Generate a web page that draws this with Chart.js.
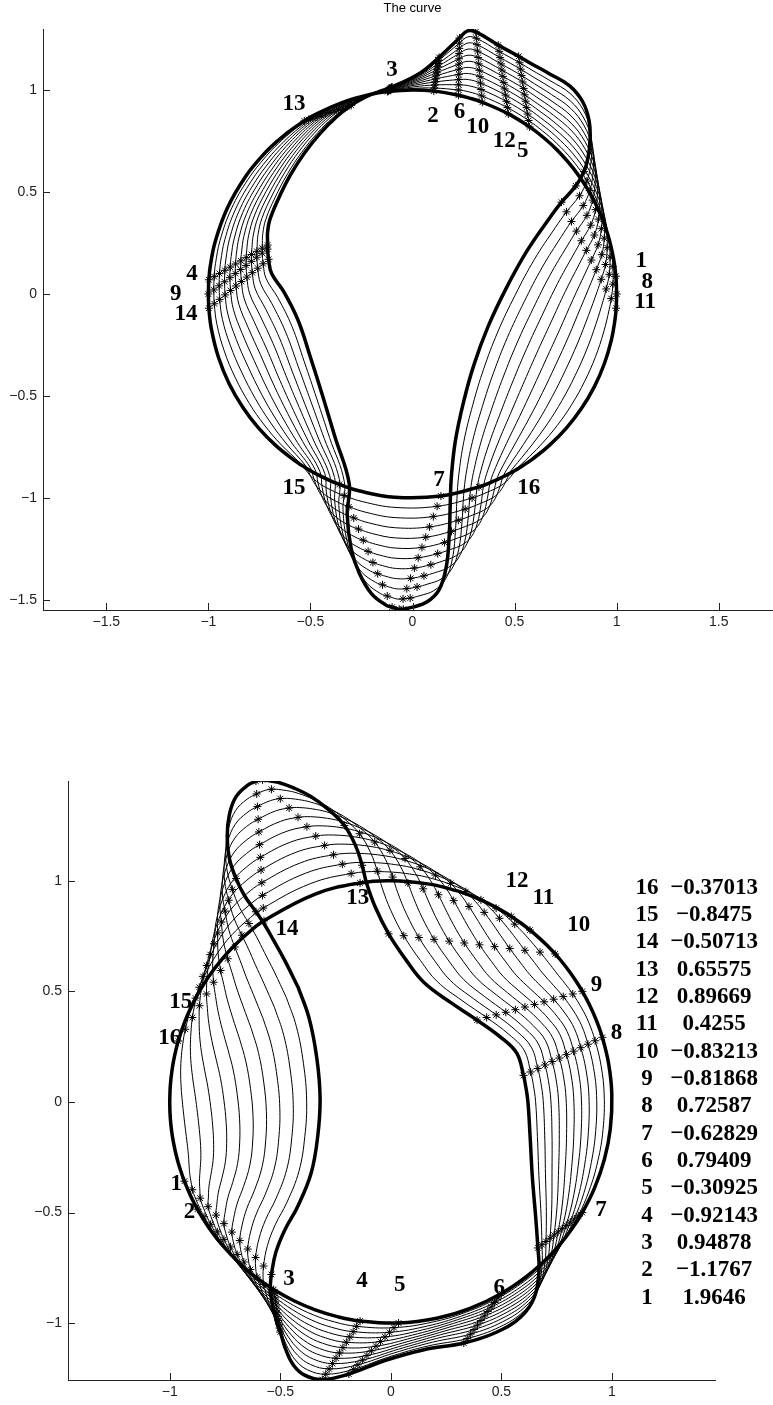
<!DOCTYPE html>
<html>
<head>
<meta charset="utf-8">
<script src="https://cdn.jsdelivr.net/npm/chart.js@4.4.1/dist/chart.umd.min.js"></script>
<style>
  html, body { margin: 0; padding: 0; background: #fff; overflow: hidden; }
  canvas { position: absolute; left: 0; }
  #topChart { top: 0; }
  #bottomChart { top: 740px; }
</style>
</head>
<body>
<canvas id="topChart" width="800" height="640"></canvas>
<canvas id="bottomChart" width="773" height="665"></canvas>
<script>
// angle (deg) of each sample on the unit circle, and where it lands on the deformed curve
const topTheta = [-180,-176,-170,-162,-154,-146,-139,-132,-125,-123,-121.5,-120,-118,-114,-111,-105,-95,-82,-71,-66,-63,-61.5,-60,-58.5,-57,-54,-48,-41,-34,-27,-20,-13,-7,-4,0,5,10,17,24,31,38,45,50,55,62,70,74,77,84,90,97,102,110,118,122,125,128,132,137,145,155,165,172,176];
const topCurveX = [-0.71,-0.705,-0.69,-0.63,-0.56,-0.50,-0.44,-0.38,-0.31,-0.32,-0.30,-0.26,-0.20,-0.13,-0.10,-0.085,-0.075,-0.065,-0.045,0.0,0.07,0.13,0.165,0.18,0.185,0.19,0.21,0.25,0.30,0.37,0.46,0.56,0.67,0.73,0.80,0.84,0.86,0.87,0.865,0.835,0.77,0.67,0.58,0.52,0.42,0.31,0.27,0.23,0.13,0.04,-0.10,-0.17,-0.21,-0.25,-0.30,-0.37,-0.45,-0.53,-0.60,-0.66,-0.70,-0.71,-0.71,-0.71];
const topCurveY = [0.22,0.17,0.10,0.01,-0.13,-0.31,-0.50,-0.70,-0.93,-1.08,-1.25,-1.37,-1.47,-1.525,-1.535,-1.54,-1.545,-1.545,-1.545,-1.535,-1.51,-1.45,-1.34,-1.18,-1.02,-0.90,-0.72,-0.53,-0.35,-0.16,0.03,0.21,0.37,0.45,0.53,0.60,0.67,0.76,0.85,0.94,1.02,1.08,1.13,1.165,1.22,1.285,1.29,1.255,1.16,1.085,1.015,0.99,0.975,0.955,0.925,0.87,0.79,0.69,0.58,0.46,0.36,0.30,0.26,0.24];
// tracked points 1..16: start angle and where the number is written
const topMarkTheta = [5,84,97,176,55,77,-82,0,-180,70,-4,62,122,-176,-111,-71];
const topLabelX = [1.12,0.10,-0.10,-1.08,0.54,0.23,0.13,1.15,-1.16,0.32,1.14,0.45,-0.58,-1.11,-0.58,0.57];
const topLabelY = [0.16,0.87,1.10,0.10,0.70,0.89,-0.91,0.06,0.00,0.82,-0.04,0.75,0.93,-0.10,-0.95,-0.95];
const topXTicks = [-1.5,-1,-0.5,0,0.5,1,1.5];
const topYTicks = [-1.5,-1,-0.5,0,0.5,1];

const botTheta = [-180,-177,-174,-171,-168,-166,-164,-162,-160,-159,-155,-151,-146,-140,-133,-127,-122,-116,-110,-104,-98,-88,-78,-69,-60,-52,-45,-40,-35,-30,-23,-15,-7,2,10,17,22,26,30,33,36,39,42,45,48,51,54,57,60,64,68,73,80,90,98,110,125,131,136,140,144,148,152,158,164,168,172,176];
const botCurveX = [-0.42,-0.37,-0.335,-0.32,-0.33,-0.36,-0.42,-0.48,-0.52,-0.54,-0.545,-0.545,-0.54,-0.535,-0.525,-0.515,-0.50,-0.475,-0.44,-0.39,-0.31,-0.19,-0.03,0.15,0.33,0.48,0.59,0.65,0.67,0.665,0.655,0.64,0.63,0.62,0.61,0.60,0.57,0.50,0.39,0.27,0.15,0.07,-0.01,-0.07,-0.11,-0.13,-0.16,-0.21,-0.28,-0.36,-0.44,-0.51,-0.55,-0.57,-0.58,-0.59,-0.61,-0.65,-0.70,-0.73,-0.74,-0.73,-0.70,-0.66,-0.61,-0.57,-0.53,-0.48];
const botCurveY = [0.52,0.38,0.20,0.02,-0.15,-0.32,-0.47,-0.58,-0.68,-0.78,-0.83,-0.86,-0.89,-0.92,-0.96,-1.00,-1.04,-1.12,-1.19,-1.235,-1.255,-1.23,-1.17,-1.12,-1.09,-1.04,-0.97,-0.88,-0.76,-0.66,-0.52,-0.34,-0.16,0.0,0.07,0.12,0.22,0.29,0.37,0.45,0.54,0.64,0.76,0.88,0.99,1.07,1.16,1.25,1.32,1.38,1.42,1.445,1.452,1.455,1.456,1.456,1.45,1.43,1.38,1.30,1.20,1.10,1.01,0.93,0.86,0.80,0.73,0.64];
const botMarkTheta = [-159,-151,-122,-98,-88,-60,-30,17,30,42,51,57,98,125,152,164];
const botLabelX = [-0.97,-0.91,-0.46,-0.13,0.04,0.49,0.95,1.02,0.93,0.85,0.69,0.57,-0.15,-0.47,-0.95,-1.0];
const botLabelY = [-0.37,-0.50,-0.80,-0.81,-0.83,-0.84,-0.49,0.31,0.53,0.80,0.92,1.0,0.92,0.78,0.45,0.29];
const botXTicks = [-1,-0.5,0,0.5,1];
const botYTicks = [-1,-0.5,0,0.5,1];
// coefficient listed next to each point number
const coefValues = [1.9646,-1.1767,0.94878,-0.92143,-0.30925,0.79409,-0.62829,0.72587,-0.81868,-0.83213,0.4255,0.89669,0.65575,-0.50713,-0.8475,-0.37013];

const STEPS = 11;
const minus = v => (v < 0 ? '\u2212' : '') + Math.abs(v);

function circlePoint(deg) {
  const a = deg * Math.PI / 180;
  return [Math.cos(a), Math.sin(a)];
}

// curve sitting at fraction t between the circle and the deformed curve
function stage(theta, cx, cy, t) {
  const pts = theta.map((d, i) => {
    const [x0, y0] = circlePoint(d);
    return { x: x0 + t * (cx[i] - x0), y: y0 + t * (cy[i] - y0) };
  });
  pts.push(pts[0]);
  return pts;
}

function buildDatasets(theta, cx, cy, marks) {
  const sets = [];
  for (let k = 0; k <= STEPS; k++) {
    const edge = k === 0 || k === STEPS;
    sets.push({
      data: stage(theta, cx, cy, k / STEPS),
      showLine: true,
      borderColor: '#000',
      borderWidth: edge ? 3.5 : 1,
      pointRadius: 0,
      tension: 0.4,
      fill: false
    });
  }
  const stars = [];
  marks.forEach(m => {
    const i = theta.indexOf(m);
    const [x0, y0] = circlePoint(m);
    for (let k = 0; k <= STEPS; k++) {
      const t = k / STEPS;
      stars.push({ x: x0 + t * (cx[i] - x0), y: y0 + t * (cy[i] - y0) });
    }
  });
  sets.push({
    data: stars,
    showLine: false,
    pointStyle: 'star',
    pointRadius: 4,
    borderColor: '#000',
    borderWidth: 1
  });
  return sets;
}

// inward tick marks, point numbers, title and the coefficient list
const decor = {
  id: 'decor',
  afterDraw(chart, args, opts) {
    const { ctx, chartArea: a, scales: { x, y } } = chart;
    ctx.save();
    ctx.strokeStyle = '#222';
    ctx.lineWidth = 1;
    x.ticks.forEach(t => {
      const px = Math.round(x.getPixelForValue(t.value)) + 0.5;
      ctx.beginPath();
      ctx.moveTo(px, a.bottom);
      ctx.lineTo(px, a.bottom - 7);
      ctx.stroke();
    });
    y.ticks.forEach(t => {
      const py = Math.round(y.getPixelForValue(t.value)) + 0.5;
      ctx.beginPath();
      ctx.moveTo(a.left, py);
      ctx.lineTo(a.left + 7, py);
      ctx.stroke();
    });

    ctx.fillStyle = '#000';
    ctx.textAlign = 'center';
    ctx.textBaseline = 'middle';
    ctx.font = 'bold 23px "Liberation Serif"';
    opts.labelX.forEach((lx, i) => {
      ctx.fillText(String(i + 1), x.getPixelForValue(lx), y.getPixelForValue(opts.labelY[i]));
    });

    if (opts.title) {
      ctx.font = '13px "Liberation Sans"';
      ctx.fillText(opts.title, (a.left + a.right) / 2, a.top - 21);
    }

    if (opts.coefs) {
      ctx.font = 'bold 23px "Liberation Serif"';
      const n = opts.coefs.length;
      for (let i = n; i >= 1; i--) {
        const py = y.getPixelForValue(opts.listTop - (n - i) * opts.listStep);
        ctx.fillText(String(i), x.getPixelForValue(opts.indexX), py);
        ctx.fillText(minus(opts.coefs[i - 1]), x.getPixelForValue(opts.valueX), py);
      }
    }
    ctx.restore();
  }
};

function makeOptions(cfg) {
  const tickFont = { family: '"Liberation Sans"', size: 14 };
  const axisBase = {
    type: 'linear',
    grid: { display: true, drawOnChartArea: false, drawTicks: false },
    border: { display: true, color: '#222', width: 1 }
  };
  return {
    responsive: false,
    animation: false,
    devicePixelRatio: 1,
    layout: { padding: cfg.padding },
    plugins: { legend: { display: false }, tooltip: { enabled: false }, decor: cfg.decor },
    scales: {
      x: Object.assign({}, axisBase, {
        min: cfg.xRange[0], max: cfg.xRange[1],
        afterBuildTicks: s => { s.ticks = cfg.xTicks.map(v => ({ value: v })); },
        afterFit: s => { s.height = cfg.xHeight; },
        ticks: { callback: v => minus(v), font: tickFont, color: '#222', padding: 4, maxRotation: 0, autoSkip: false }
      }),
      y: Object.assign({}, axisBase, {
        min: cfg.yRange[0], max: cfg.yRange[1],
        afterBuildTicks: s => { s.ticks = cfg.yTicks.map(v => ({ value: v })); },
        afterFit: s => { s.width = cfg.yWidth; },
        ticks: { callback: v => minus(v), font: tickFont, color: '#222', padding: 6, autoSkip: false }
      })
    }
  };
}

new Chart(document.getElementById('topChart'), {
  type: 'scatter',
  data: { datasets: buildDatasets(topTheta, topCurveX, topCurveY, topMarkTheta) },
  options: makeOptions({
    padding: { top: 29, right: 18, bottom: 0, left: 0 },
    xRange: [-1.81, 1.81], yRange: [-1.549, 1.299],
    xTicks: topXTicks, yTicks: topYTicks,
    xHeight: 30, yWidth: 43,
    decor: { labelX: topLabelX, labelY: topLabelY, title: 'The curve' }
  }),
  plugins: [decor]
});

new Chart(document.getElementById('bottomChart'), {
  type: 'scatter',
  data: { datasets: buildDatasets(botTheta, botCurveX, botCurveY, botMarkTheta) },
  options: makeOptions({
    padding: { top: 41, right: 58, bottom: 0, left: 0 },
    xRange: [-1.46, 1.466], yRange: [-1.257, 1.451],
    xTicks: botXTicks, yTicks: botYTicks,
    xHeight: 25, yWidth: 68,
    decor: {
      labelX: botLabelX, labelY: botLabelY,
      coefs: coefValues, listTop: 0.968, listStep: 0.1235, indexX: 1.158, valueX: 1.462
    }
  }),
  plugins: [decor]
});
</script>
</body>
</html>
